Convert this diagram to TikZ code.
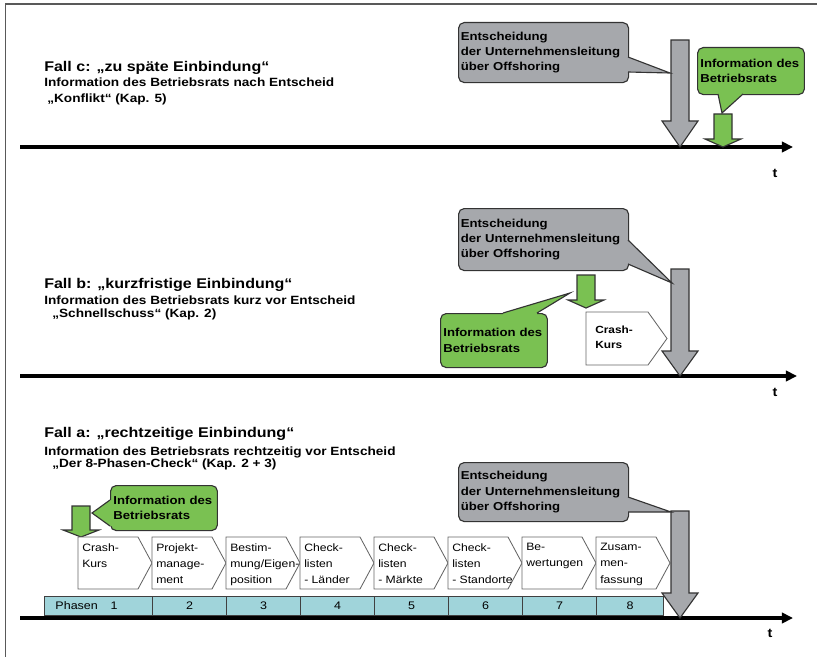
\documentclass[tikz,border=0pt]{standalone}
\usepackage{fontspec}
\setmainfont{Liberation Sans}[FakeStretch=1.14]
\usepackage{tikz}
\usetikzlibrary{positioning}
\usetikzlibrary{arrows.meta}

\definecolor{grau}{RGB}{166,168,172}
\definecolor{gruen}{RGB}{122,193,82}
\definecolor{tuerkis}{RGB}{160,212,218}

\begin{document}
\begin{tikzpicture}[x=0.025cm, y=-0.025cm,
    titel/.style={anchor=base west, inner sep=0, font=\fontsize{10}{12}\selectfont\bfseries},
    unter/.style={anchor=base west, inner sep=0, font=\fontsize{8.5}{10}\selectfont\bfseries},
    graubox/.style={draw=black!80, fill=grau, line width=0.8pt, rounded corners=4pt, anchor=north west, align=left, inner xsep=1.5pt, inner ysep=0, text width=4.14cm, minimum width=4.25cm, font=\fontsize{8.2}{11}\selectfont\bfseries},
    gruenbox/.style={draw=black!80, fill=gruen, line width=0.8pt, rounded corners=4pt, anchor=north west, align=left, inner xsep=2pt, inner ysep=0, text width=2.53cm, minimum width=2.67cm, font=\fontsize{8.2}{11}\selectfont\bfseries},
    zeiger/.style={draw=black!80, line width=0.8pt},
    block/.style={draw=black!80, line width=0.8pt},
    achse/.style={line width=2.2pt, -{Triangle[length=8pt,width=7.5pt]}},
    phase/.style={draw=black!60, fill=white, line width=0.6pt},
    ptext/.style={anchor=north west, inner sep=0, align=left, font=\fontsize{7.6}{11.6}\selectfont},
    zelle/.style={draw=black!75, fill=tuerkis, line width=0.7pt, anchor=north west, inner sep=0, minimum height=0.475cm, minimum width=1.85cm, font=\fontsize{7.8}{9}\selectfont},
    zeit/.style={inner sep=0, font=\fontsize{9}{10}\selectfont\bfseries}]

  \useasboundingbox (0,0) rectangle (817,657);
  % Rahmen
  \draw[black!65, line width=1pt] (5.5,657) -- (5.5,4) -- (817,4);

  % Fall c
  \node[titel] (tc) at (44,72) {Fall c: „zu späte Einbindung“};
  \node[unter] (uc) at (44,86.7) {Information des Betriebsrats nach Entscheid};
  \node[unter] (kc) at (47,103) {„Konflikt“ (Kap. 5)};
  \coordinate (c0) at (20,147);
  \coordinate (c1) at (793,147);
  \draw[achse] (c0) -- (c1);
  \node[zeit] (zc) at (775,173) {t};

  \draw[block, fill=grau] (671,40) -- (689,40) -- (689,121) -- (698,121) -- (680,147) -- (662,121) -- (671,121) -- cycle;
  \node[graubox, minimum height=1.5cm] (ec) at (458,22) {Entscheidung\\der Unternehmensleitung\\über Offshoring};
  \fill[grau] (628,57) -- (670,73) -- (628,72) -- (625,72) -- (625,57) -- cycle;
  \draw[zeiger] (628,57) -- (670,73) -- (628,72);

  \draw[block, fill=gruen] (714,114) -- (732,114) -- (732,139) -- (741,139) -- (723,147) -- (705,139) -- (714,139) -- cycle;
  \node[gruenbox, minimum height=1.175cm] (ic) at (697,47) {Information des\\Betriebsrats};
  \fill[gruen] (718,94) -- (722,113) -- (743,94) -- (743,91) -- (718,91) -- cycle;
  \draw[zeiger] (718,94) -- (722,113) -- (743,94);

  % Fall b
  \node[titel] (tb) at (44,288) {Fall b: „kurzfristige Einbindung“};
  \node[unter] (ub) at (44,304) {Information des Betriebsrats kurz vor Entscheid};
  \node[unter] (kb) at (52,317) {„Schnellschuss“ (Kap. 2)};
  \coordinate (b0) at (20,376);
  \coordinate (b1) at (797,376);
  \draw[achse] (b0) -- (b1);
  \node[zeit] (zb) at (775,392) {t};

  \draw[block, fill=grau] (671,269) -- (689,269) -- (689,351) -- (698,351) -- (680,376) -- (662,351) -- (671,351) -- cycle;
  \node[graubox, minimum height=1.55cm] (eb) at (458,208) {Entscheidung\\der Unternehmensleitung\\über Offshoring};
  \fill[grau] (628,240) -- (672,283) -- (628,264) -- (625,264) -- (625,240) -- cycle;
  \draw[zeiger] (628,240) -- (672,283) -- (628,264);

  \draw[block, fill=gruen] (577,275) -- (595,275) -- (595,300) -- (604,300) -- (586,308) -- (568,300) -- (577,300) -- cycle;
  \node[gruenbox, minimum height=1.35cm] (ib) at (440,313) {Information des\\Betriebsrats};
  \fill[gruen] (503,313) -- (570,293) -- (537,313) -- (537,316) -- (503,316) -- cycle;
  \draw[zeiger] (503,313) -- (570,293) -- (537,313);

  \draw[phase] (586,312) -- (648,312) -- (667,338.5) -- (648,365) -- (586,365) -- cycle;
  \node[ptext, font=\fontsize{7.4}{10.7}\selectfont\bfseries] (kurs) at (595,326) {Crash-\\Kurs};

  % Fall a
  \node[titel] (ta) at (44,437) {Fall a: „rechtzeitige Einbindung“};
  \node[unter] (ua) at (44,455) {Information des Betriebsrats rechtzeitig vor Entscheid};
  \node[unter] (ka) at (52,467) {„Der 8-Phasen-Check“ (Kap. 2 + 3)};

  \draw[block, fill=gruen] (72,506) -- (90,506) -- (90,530) -- (99,530) -- (81,537) -- (63,530) -- (72,530) -- cycle;
  \node[gruenbox, minimum height=1.125cm] (ia) at (110,485) {Information des\\Betriebsrats};
  \fill[gruen] (110,500) -- (92,513) -- (110,526) -- (113,526) -- (113,500) -- cycle;
  \draw[zeiger] (110,500) -- (92,513) -- (110,526);

  % Phasen
  \draw[phase] (78,537) -- ++(60,0) -- ++(14,26) -- ++(-14,26) -- ++(-60,0) -- cycle;
  \node[ptext] (p1) at (82,543) {Crash-\\Kurs};
  \draw[phase] (152,537) -- ++(60,0) -- ++(14,26) -- ++(-14,26) -- ++(-60,0) -- cycle;
  \node[ptext] (p2) at (156,543) {Projekt-\\manage-\\ment};
  \draw[phase] (226,537) -- ++(60,0) -- ++(14,26) -- ++(-14,26) -- ++(-60,0) -- cycle;
  \node[ptext] (p3) at (230,543) {Bestim-\\mung/Eigen-\\position};
  \draw[phase] (300,537) -- ++(60,0) -- ++(14,26) -- ++(-14,26) -- ++(-60,0) -- cycle;
  \node[ptext] (p4) at (304,543) {Check-\\listen\\- Länder};
  \draw[phase] (374,537) -- ++(60,0) -- ++(14,26) -- ++(-14,26) -- ++(-60,0) -- cycle;
  \node[ptext] (p5) at (378,543) {Check-\\listen\\- Märkte};
  \draw[phase] (448,537) -- ++(60,0) -- ++(14,26) -- ++(-14,26) -- ++(-60,0) -- cycle;
  \node[ptext] (p6) at (452,543) {Check-\\listen\\- Standorte};
  \draw[phase] (522,537) -- ++(60,0) -- ++(14,26) -- ++(-14,26) -- ++(-60,0) -- cycle;
  \node[ptext] (p7) at (526,543) {Be-\\wertungen};
  \draw[phase] (596,537) -- ++(60,0) -- ++(14,26) -- ++(-14,26) -- ++(-60,0) -- cycle;
  \node[ptext] (p8) at (600,543) {Zusam-\\men-\\fassung};

  \node[zelle, minimum width=2.7cm, align=left, text width=2.15cm, inner xsep=0.275cm] (z1) at (44,596) {Phasen\hspace{9pt}1};
  \node[zelle] (z2) at (152,596) {2};
  \node[zelle] (z3) at (226,596) {3};
  \node[zelle] (z4) at (300,596) {4};
  \node[zelle] (z5) at (374,596) {5};
  \node[zelle] (z6) at (448,596) {6};
  \node[zelle] (z7) at (522,596) {7};
  \node[zelle, minimum width=1.675cm] (z8) at (596,596) {8};

  \coordinate (a0) at (20,618);
  \coordinate (a1) at (793,618);
  \draw[achse] (a0) -- (a1);
  \node[zeit] (za) at (770,633) {t};

  \draw[block, fill=grau] (671,511) -- (689,511) -- (689,593) -- (698,593) -- (680,618) -- (662,593) -- (671,593) -- cycle;
  \node[graubox, minimum height=1.475cm] (ea) at (458,462) {Entscheidung\\der Unternehmensleitung\\über Offshoring};
  \fill[grau] (628,497) -- (671,512) -- (628,512) -- (625,512) -- (625,497) -- cycle;
  \draw[zeiger] (628,497) -- (671,512) -- (628,512);
\end{tikzpicture}
\end{document}
